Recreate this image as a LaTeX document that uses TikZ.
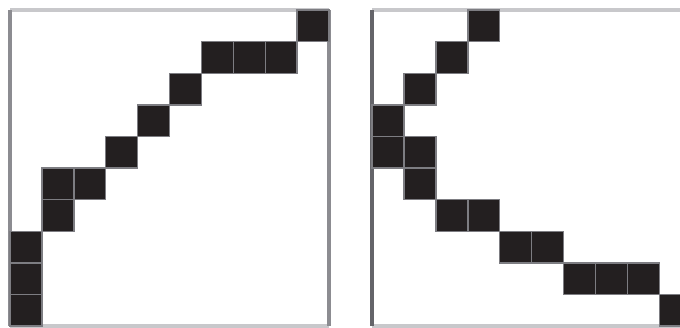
\documentclass[tikz,border=0pt]{standalone}
\definecolor{cellfill}{RGB}{35,31,32}
\definecolor{celledge}{RGB}{125,125,130}
\definecolor{framedark}{RGB}{100,100,105}
\definecolor{framemid}{RGB}{140,140,145}
\definecolor{framelight}{RGB}{200,200,203}

\begin{document}
\begin{tikzpicture}[x=31.9pt, y=-31.6pt,
    cell/.style={fill=cellfill, draw=celledge, line width=1.4pt},
    side/.style={line width=3.4pt}]
      \clip (-0.3135,-0.3165) rectangle (21.003,10.063);
      % left panel
      \draw[side, framelight] (0,0) -- (10,0);
      \draw[side, framelight] (0,10) -- (10,10);
      \draw[side, framemid] (0,0) -- (0,10);
      \draw[side, framemid] (10,0) -- (10,10);
      \draw[cell] (9,0) rectangle ++(1,1);
      \draw[cell] (6,1) rectangle ++(1,1) (7,1) rectangle ++(1,1) (8,1) rectangle ++(1,1);
      \draw[cell] (5,2) rectangle ++(1,1);
      \draw[cell] (4,3) rectangle ++(1,1);
      \draw[cell] (3,4) rectangle ++(1,1);
      \draw[cell] (1,5) rectangle ++(1,1) (2,5) rectangle ++(1,1);
      \draw[cell] (1,6) rectangle ++(1,1);
      \draw[cell] (0,7) rectangle ++(1,1) (0,8) rectangle ++(1,1) (0,9) rectangle ++(1,1);
      % right panel
      \begin{scope}[xshift=362.1pt]
      \draw[side, framelight] (0,0) -- (10,0);
      \draw[side, framelight] (0,10) -- (10,10);
      \draw[side, framedark] (0,0) -- (0,10);
      \draw[cell] (3,0) rectangle ++(1,1);
      \draw[cell] (2,1) rectangle ++(1,1);
      \draw[cell] (1,2) rectangle ++(1,1);
      \draw[cell] (0,3) rectangle ++(1,1);
      \draw[cell] (0,4) rectangle ++(1,1) (1,4) rectangle ++(1,1);
      \draw[cell] (1,5) rectangle ++(1,1);
      \draw[cell] (2,6) rectangle ++(1,1) (3,6) rectangle ++(1,1);
      \draw[cell] (4,7) rectangle ++(1,1) (5,7) rectangle ++(1,1);
      \draw[cell] (6,8) rectangle ++(1,1) (7,8) rectangle ++(1,1) (8,8) rectangle ++(1,1);
      \draw[cell] (9,9) rectangle ++(1,1);
      \end{scope}
    \end{tikzpicture}
\end{document}
